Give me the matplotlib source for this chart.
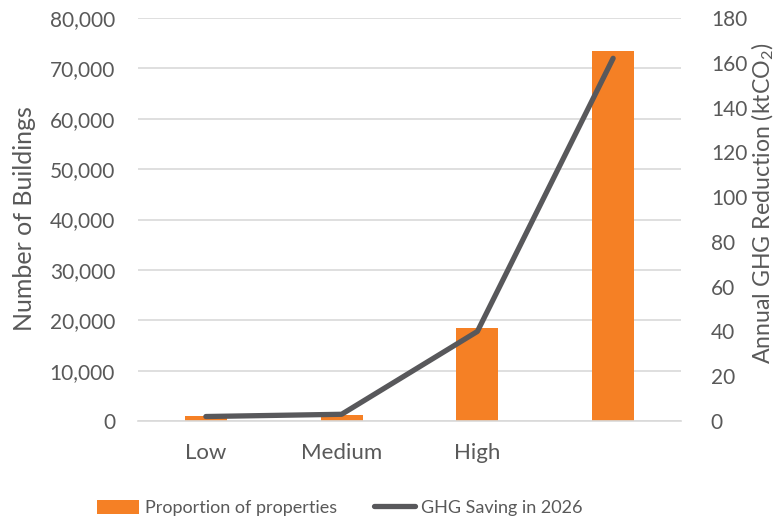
import matplotlib
matplotlib.use("Agg")
import matplotlib.pyplot as plt
from matplotlib.ticker import FuncFormatter, MultipleLocator
from matplotlib.lines import Line2D
from matplotlib.patches import Patch

plt.rcParams['font.family'] = ['Lato', 'DejaVu Sans']
plt.rcParams['mathtext.fontset'] = 'custom'
plt.rcParams['mathtext.rm'] = 'Lato'
plt.rcParams['mathtext.it'] = 'Lato:italic'

categories = ["Low", "Medium", "High", ""]
buildings = [900, 1200, 18400, 73500]
ghg_saving = [2, 3, 40, 162]

text_color = "#595959"
bar_color = "#F58025"
line_color = "#58585B"
grid_color = "#D9D9D9"
tick_fs = 15
cat_fs = 16
title_fs = 18
right_title_fs = 16.7
legend_fs = 13

W, H = 776, 521
fig = plt.figure(figsize=(W / 100, H / 100), dpi=100)
ax = fig.add_axes([138 / W, 100 / H, 543 / W, 403 / H])
ax2 = ax.twinx()

x = list(range(len(categories)))
ax.bar(x, buildings, width=0.31, color=bar_color, zorder=2)
ax.set_xlim(-0.5, 3.5)
ax.set_ylim(0, 80000)
ax.yaxis.set_major_locator(MultipleLocator(10000))
ax.yaxis.set_major_formatter(FuncFormatter(lambda v, p: f"{int(v):,}"))
ax.grid(axis="y", color=grid_color, linewidth=1.2, zorder=0)
ax.set_axisbelow(True)
ax.set_xticks(x)
ax.set_xticklabels(categories)
ax.tick_params(axis="both", length=0, colors=text_color, labelsize=tick_fs)
ax.tick_params(axis="x", pad=16, labelsize=cat_fs)
ax.tick_params(axis="y", pad=16.5)
for s in ["top", "right", "left"]:
    ax.spines[s].set_visible(False)
ax.spines["bottom"].set_color(grid_color)
ax.spines["bottom"].set_linewidth(1.2)

ax2.plot(x, ghg_saving, color=line_color, linewidth=3.8,
         solid_capstyle="round", solid_joinstyle="round", zorder=3)
ax2.set_ylim(0, 180)
ax2.yaxis.set_major_locator(MultipleLocator(20))
ax2.tick_params(axis="y", length=0, colors=text_color, labelsize=tick_fs, pad=21.5)
for s in ax2.spines.values():
    s.set_visible(False)

# axis titles placed in figure pixels
fig.text(25 / W, 1 - 219 / H, "Number of Buildings", rotation=90,
         ha="center", va="center", color=text_color, fontsize=title_fs)
fig.text(763 / W, 1 - 203 / H, "Annual GHG Reduction (ktCO$_2$)", rotation=90,
         ha="center", va="center", color=text_color, fontsize=right_title_fs)

handles = [Patch(facecolor=bar_color, edgecolor="none"),
           Line2D([0], [0], color=line_color, linewidth=3.8, solid_capstyle="round")]
fig.legend(handles, ["Proportion of properties", "GHG Saving in 2026"],
           loc="center", bbox_to_anchor=(0.438, 0.025), ncol=2, frameon=False,
           fontsize=legend_fs, labelcolor=text_color, handlelength=2.3,
           handleheight=0.8, columnspacing=2.05, handletextpad=0.33)

fig.savefig("out.png", dpi=100)
